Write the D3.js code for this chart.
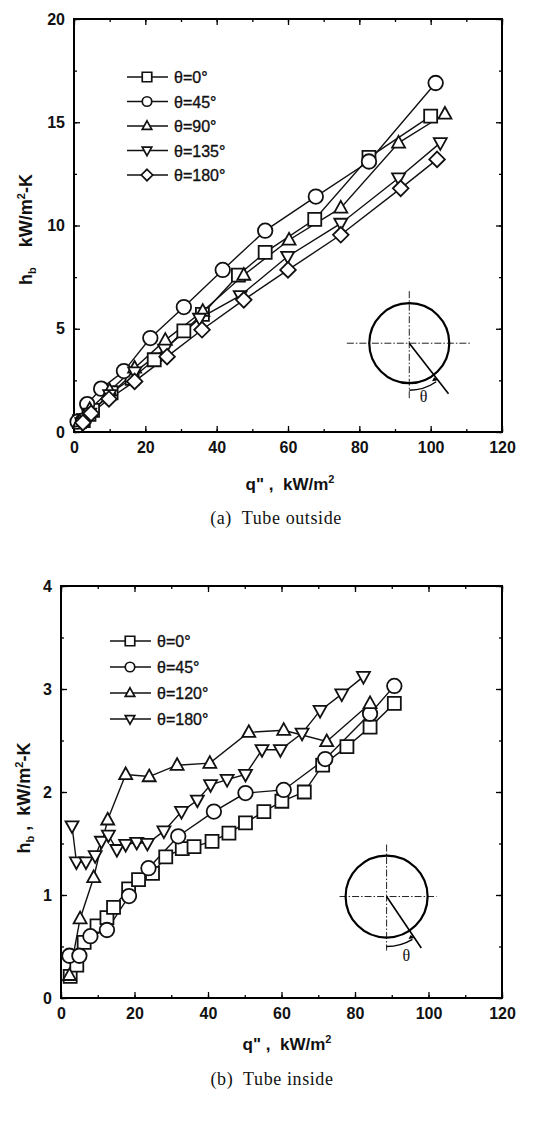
<!DOCTYPE html>
<html><head><meta charset="utf-8">
<script src="https://cdn.jsdelivr.net/npm/d3@7"></script>
<style>body{margin:0;background:#fff}svg{display:block}</style>
</head><body>
<svg id="c" width="546" height="1122"></svg>
<script>
// ---------- DATA ----------
// (a) Tube outside
const outLabels = ["θ=0°", "θ=45°", "θ=90°", "θ=135°", "θ=180°"];
const outShapes = ["square", "circle", "up", "down", "diamond"];
const out0Q = [1.5, 2.6, 4.2, 5.2, 10.4, 16.3, 22.5, 30.8, 36, 46.1, 53.6, 67.5, 82.7, 100];
const out0H = [0.5, 0.55, 0.85, 1.05, 1.9, 2.6, 3.5, 4.9, 5.7, 7.6, 8.7, 10.3, 13.3, 15.3];
const out45Q = [1, 2.5, 3.7, 7.6, 14, 21.4, 30.8, 41.7, 53.6, 67.8, 82.7, 101.4];
const out45H = [0.5, 0.55, 1.35, 2.1, 2.95, 4.55, 6.05, 7.85, 9.75, 11.4, 13.1, 16.9];
const out90Q = [1.6, 4.4, 10, 17, 25.6, 36.1, 47.6, 60.3, 74.8, 91, 104];
const out90H = [0.5, 1.1, 2.0, 3.1, 4.45, 5.85, 7.6, 9.3, 10.85, 14.0, 15.4];
const out135Q = [2.2, 4.4, 10, 17, 25.4, 35.2, 46.6, 59.9, 74.8, 91, 102.7];
const out135H = [0.45, 0.9, 1.8, 2.9, 4.0, 5.5, 6.6, 8.5, 10.1, 12.3, 14.0];
const out180Q = [2.5, 4.8, 9.8, 17, 26.1, 35.9, 47.6, 60, 74.8, 91.6, 101.8];
const out180H = [0.45, 0.9, 1.6, 2.45, 3.65, 4.95, 6.4, 7.85, 9.55, 11.8, 13.2];
const outXTicks = [0, 20, 40, 60, 80, 100, 120];
const outYTicks = [0, 5, 10, 15, 20];

// (b) Tube inside
const inLabels = ["θ=0°", "θ=45°", "θ=120°", "θ=180°"];
const inShapes = ["square", "circle", "up", "down"];
const in0Q = [2.5, 4.3, 6.3, 9.8, 12.5, 14.3, 18.4, 21.1, 24.9, 28.5, 33, 36.2, 41.1, 45.7, 50.2, 55.2, 60.1, 66.2, 71.2, 77.8, 84.1, 90.7];
const in0H = [0.21, 0.32, 0.54, 0.7, 0.78, 0.88, 1.06, 1.15, 1.21, 1.37, 1.45, 1.47, 1.52, 1.6, 1.7, 1.81, 1.91, 2.0, 2.26, 2.44, 2.63, 2.86];
const in45Q = [2.3, 5, 8, 12.5, 18.5, 23.8, 31.9, 41.6, 50.2, 60.6, 71.9, 84.1, 90.7];
const in45H = [0.41, 0.41, 0.6, 0.66, 0.99, 1.26, 1.57, 1.81, 1.99, 2.02, 2.32, 2.76, 3.03];
const in120Q = [2.3, 5.2, 8.9, 12.7, 17.6, 24, 31.6, 40.5, 51.1, 60.6, 72.3, 84.1];
const in120H = [0.22, 0.77, 1.17, 1.73, 2.17, 2.15, 2.26, 2.28, 2.58, 2.6, 2.49, 2.86];
const in180Q = [3, 4.2, 6.8, 9.3, 11, 12.9, 15.2, 17.6, 20.6, 23.5, 28, 32.8, 37.1, 40.7, 45.2, 50.2, 54.7, 59.7, 65.6, 70.5, 76.4, 82.3];
const in180H = [1.67, 1.32, 1.32, 1.38, 1.52, 1.58, 1.44, 1.49, 1.51, 1.5, 1.62, 1.81, 1.92, 2.07, 2.12, 2.17, 2.41, 2.41, 2.57, 2.79, 2.95, 3.12];
const inXTicks = [0, 20, 40, 60, 80, 100, 120];
const inYTicks = [0, 1, 2, 3, 4];

// ---------- DRAW ----------
const svg = d3.select("#c");
const tickFont = "'Liberation Sans', Arial, sans-serif";

function shapePath(type, s) {
  const p = d3.path();
  if (type === "square") { p.rect(-s/2, -s/2, s, s); }
  else if (type === "circle") { p.arc(0, 0, s/2, 0, 2*Math.PI); p.closePath(); }
  else if (type === "up") { const h = s*0.9; p.moveTo(0, -h*0.6); p.lineTo(s/2, h*0.4); p.lineTo(-s/2, h*0.4); p.closePath(); }
  else if (type === "down") { const h = s*0.9; p.moveTo(0, h*0.6); p.lineTo(s/2, -h*0.4); p.lineTo(-s/2, -h*0.4); p.closePath(); }
  else if (type === "diamond") { const d = s*0.6; p.moveTo(0, -d); p.lineTo(d, 0); p.lineTo(0, d); p.lineTo(-d, 0); p.closePath(); }
  return p.toString();
}

function panel(cfg) {
  const g = svg.append("g");
  const x = d3.scaleLinear().domain([0, 120]).range([cfg.left, cfg.right]);
  const y = d3.scaleLinear().domain(cfg.yDomain).range([cfg.bottom, cfg.top]);

  const minorX = d3.range(0, 121, 10);
  const minorY = d3.range(cfg.yDomain[0], cfg.yDomain[1] + 1e-9, cfg.yMinor);
  const axB = d3.axisBottom(x).tickValues(cfg.xTicks).tickSize(-6).tickPadding(10).tickFormat(d3.format("d"));
  const axBm = d3.axisBottom(x).tickValues(minorX).tickSize(-3).tickFormat("");
  const axL = d3.axisLeft(y).tickValues(cfg.yTicks).tickSize(-6).tickPadding(9).tickFormat(d3.format("d"));
  const axLm = d3.axisLeft(y).tickValues(minorY).tickSize(-3).tickFormat("");
  const axT = d3.axisTop(x).tickValues(cfg.xTicks).tickSize(-6).tickFormat("");
  const axTm = d3.axisTop(x).tickValues(minorX).tickSize(-3).tickFormat("");
  const axR = d3.axisRight(y).tickValues(cfg.yTicks).tickSize(-6).tickFormat("");
  const axRm = d3.axisRight(y).tickValues(minorY).tickSize(-3).tickFormat("");
  const put = (ax, tr) => {
    const a = g.append("g").attr("transform", tr).call(ax);
    a.select(".domain").remove();
    a.selectAll("line").attr("stroke", "#000").attr("stroke-width", 1.3);
    a.selectAll("text").attr("font-family", tickFont).attr("font-weight", "bold").attr("font-size", 16).attr("fill", "#111");
    return a;
  };
  put(axB, `translate(0,${cfg.bottom})`); put(axBm, `translate(0,${cfg.bottom})`);
  put(axL, `translate(${cfg.left},0)`); put(axLm, `translate(${cfg.left},0)`);
  put(axT, `translate(0,${cfg.top})`); put(axTm, `translate(0,${cfg.top})`);
  put(axR, `translate(${cfg.right},0)`); put(axRm, `translate(${cfg.right},0)`);
  g.append("rect").attr("x", cfg.left).attr("y", cfg.top)
    .attr("width", cfg.right - cfg.left).attr("height", cfg.bottom - cfg.top)
    .attr("fill", "none").attr("stroke", "#000").attr("stroke-width", 2);

  // series
  const line = d3.line().x(d => x(d[0])).y(d => y(d[1]));
  cfg.series.forEach(s => {
    const pts = s.q.map((q, i) => [q, s.h[i]]);
    g.append("path").attr("d", line(pts)).attr("fill", "none").attr("stroke", "#111").attr("stroke-width", 1.4);
  });
  cfg.series.forEach(s => {
    const pts = s.q.map((q, i) => [q, s.h[i]]);
    g.selectAll(null).data(pts).enter().append("path")
      .attr("transform", d => `translate(${x(d[0])},${y(d[1])})`)
      .attr("d", shapePath(s.shape, s.shape === "circle" ? cfg.msize + 1.5 : cfg.msize))
      .attr("fill", "#fff").attr("stroke", "#111").attr("stroke-width", 1.8);
  });

  // legend
  cfg.series.forEach((s, i) => {
    const ly = cfg.legY + i * cfg.legDy;
    g.append("line").attr("x1", cfg.legX).attr("x2", cfg.legX + 41).attr("y1", ly).attr("y2", ly)
      .attr("stroke", "#111").attr("stroke-width", 1.3);
    g.append("path").attr("transform", `translate(${cfg.legX + 20},${ly})`)
      .attr("d", shapePath(s.shape, 9.5)).attr("fill", "#fff").attr("stroke", "#111").attr("stroke-width", 1.7);
    g.append("text").attr("x", cfg.legX + 47).attr("y", ly + 6).text(s.label)
      .attr("font-family", tickFont).attr("font-size", 16).attr("fill", "#111")
      .attr("stroke", "#111").attr("stroke-width", 0.35);
  });

  // tube diagram
  const d = cfg.diag;
  const cx = x(d.cx), cy = y(d.cy);
  const dash = "7,2,1.5,2";
  g.append("line").attr("x1", x(d.hx0)).attr("x2", x(d.hx1)).attr("y1", cy).attr("y2", cy)
    .attr("stroke", "#222").attr("stroke-width", 1).attr("stroke-dasharray", dash);
  g.append("line").attr("x1", cx).attr("x2", cx).attr("y1", cy - d.vUp).attr("y2", cy + d.vDown)
    .attr("stroke", "#222").attr("stroke-width", 1).attr("stroke-dasharray", dash);
  g.append("circle").attr("cx", cx).attr("cy", cy).attr("r", d.r).attr("fill", "none").attr("stroke", "#000").attr("stroke-width", 2.2);
  const ang = d.ang * Math.PI / 180;
  g.append("line").attr("x1", cx).attr("y1", cy)
    .attr("x2", cx + Math.sin(ang) * d.rl).attr("y2", cy + Math.cos(ang) * d.rl)
    .attr("stroke", "#000").attr("stroke-width", 1.6);
  const arc = d3.path();
  arc.arc(cx, cy, d.ra, Math.PI / 2, Math.PI / 2 - ang + 0.05, true);
  g.append("path").attr("d", arc.toString()).attr("fill", "none").attr("stroke", "#000").attr("stroke-width", 1.4);
  const ea = Math.PI / 2 - ang;
  const ex = cx + Math.cos(ea) * d.ra, ey = cy + Math.sin(ea) * d.ra;
  g.append("path").attr("d", `M${ex},${ey} l-6,1 l2,-4 Z`).attr("fill", "#000");
  g.append("text").attr("x", x(d.tx)).attr("y", y(d.ty)).text("θ")
    .attr("font-family", "'Liberation Serif', serif").attr("font-size", 16).attr("fill", "#111").attr("text-anchor", "middle");

  // axis titles
  const yt = g.append("text").attr("transform", `translate(${cfg.yTitleX},${(cfg.top + cfg.bottom) / 2 + cfg.yTitleDy}) rotate(-90)`)
    .attr("text-anchor", "middle").attr("font-family", tickFont).attr("font-weight", "bold").attr("font-size", 18).attr("fill", "#111")
    .style("white-space", "pre");
  yt.append("tspan").text("h");
  yt.append("tspan").attr("font-size", 11).attr("dy", 4).text("b");
  yt.append("tspan").attr("dy", -4).text(cfg.ySep + "kW/m");
  yt.append("tspan").attr("font-size", 11).attr("dy", -7).text("2");
  yt.append("tspan").attr("dy", 7).text("-K");

  const xt = g.append("text").attr("x", cfg.xTitleX).attr("y", cfg.xTitleY)
    .attr("text-anchor", "middle").attr("font-family", tickFont).attr("font-weight", "bold").attr("font-size", 17).attr("fill", "#111")
    .style("white-space", "pre");
  xt.append("tspan").text("q\" ,  kW/m");
  xt.append("tspan").attr("font-size", 11).attr("dy", -7).text("2");

  g.append("text").attr("x", cfg.capX).attr("y", cfg.capY).attr("text-anchor", "middle")
    .attr("font-family", "'Liberation Serif', 'DejaVu Serif', serif").attr("font-size", 18).attr("fill", "#111")
    .attr("letter-spacing", 0.6).style("white-space", "pre")
    .text(cfg.caption);
}

panel({
  left: 74, right: 502, top: 19, bottom: 432, yDomain: [0, 20], yMinor: 2.5,
  xTicks: outXTicks, yTicks: outYTicks, msize: 13,
  series: [
    {label: outLabels[0], shape: outShapes[0], q: out0Q, h: out0H},
    {label: outLabels[1], shape: outShapes[1], q: out45Q, h: out45H},
    {label: outLabels[2], shape: outShapes[2], q: out90Q, h: out90H},
    {label: outLabels[3], shape: outShapes[3], q: out135Q, h: out135H},
    {label: outLabels[4], shape: outShapes[4], q: out180Q, h: out180H}
  ],
  legX: 127, legY: 77, legDy: 24.5,
  diag: {cx: 94, cy: 4.3, r: 40, hx0: 76.5, hx1: 111, vUp: 52, vDown: 56, ang: 37.8, rl: 64, ra: 47, tx: 98, ty: 1.45},
  yTitleX: 32, yTitleDy: 4, ySep: "    ",
  xTitleX: 290, xTitleY: 490, capX: 276, capY: 524, caption: "(a)  Tube outside"
});

panel({
  left: 61, right: 502, top: 586, bottom: 998, yDomain: [0, 4], yMinor: 0.5,
  xTicks: inXTicks, yTicks: inYTicks, msize: 13,
  series: [
    {label: inLabels[0], shape: inShapes[0], q: in0Q, h: in0H},
    {label: inLabels[1], shape: inShapes[1], q: in45Q, h: in45H},
    {label: inLabels[2], shape: inShapes[2], q: in120Q, h: in120H},
    {label: inLabels[3], shape: inShapes[3], q: in180Q, h: in180H}
  ],
  legX: 110, legY: 641, legDy: 26,
  diag: {cx: 88.6, cy: 0.985, r: 41, hx0: 75.8, hx1: 102.2, vUp: 52, vDown: 54, ang: 34, rl: 62, ra: 50, tx: 94, ty: 0.36},
  yTitleX: 30, yTitleDy: 6, ySep: " ,  ",
  xTitleX: 287, xTitleY: 1050, capX: 272, capY: 1085, caption: "(b)  Tube inside"
});
</script>
</body></html>
